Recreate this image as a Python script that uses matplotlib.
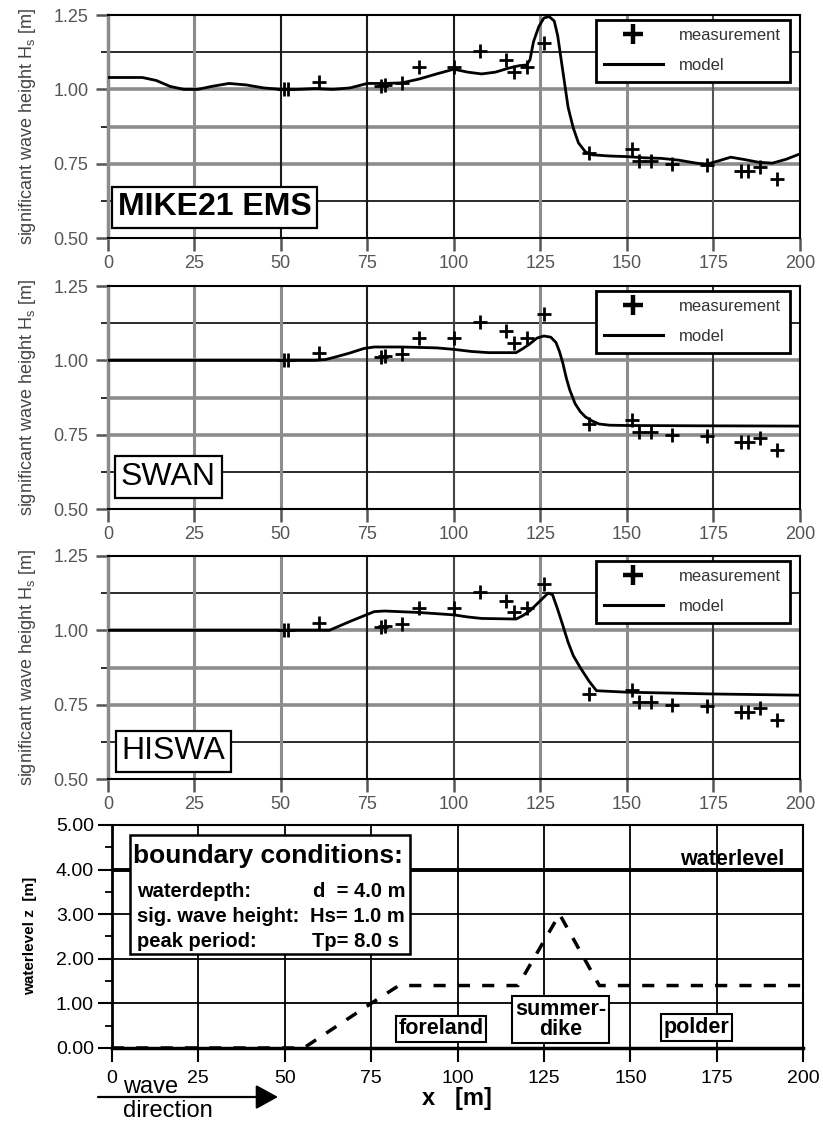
import matplotlib
matplotlib.use('Agg')
import matplotlib.pyplot as plt
from matplotlib.lines import Line2D
from matplotlib.patches import Rectangle
from matplotlib.ticker import FormatStrFormatter, MultipleLocator

plt.rcParams['font.family'] = ['Liberation Sans', 'DejaVu Sans']
plt.rcParams['mathtext.default'] = 'regular'

# ---------------- data ----------------
meas_x = [51, 52, 61, 79, 80, 85, 90, 100, 107.5, 115, 117.5, 121, 126,
          139, 151.5, 153.5, 157, 163, 173, 183, 185, 188.5, 193.5]
meas_y = [1.00, 1.00, 1.025, 1.01, 1.015, 1.02, 1.075, 1.075, 1.13, 1.10, 1.06, 1.075, 1.155,
          0.785, 0.80, 0.76, 0.76, 0.75, 0.745, 0.725, 0.725, 0.74, 0.70]

mike_x = [0, 5, 10, 14, 18, 22, 26, 30, 35, 40, 45, 50, 55, 60, 65, 70, 75, 80, 85, 90, 95,
          100, 104, 108, 112, 116, 119, 121, 122, 123, 124.5, 126, 127.5, 129, 130, 131, 132,
          133, 134.5, 136, 138, 140, 145, 150, 155, 160, 165, 170, 173, 176, 180, 184, 188,
          192, 196, 200]
mike_y = [1.04, 1.04, 1.04, 1.03, 1.01, 1.0, 1.0, 1.01, 1.02, 1.015, 1.005, 1.0, 1.0, 1.003,
          1.0, 1.005, 1.02, 1.02, 1.022, 1.035, 1.052, 1.068, 1.058, 1.052, 1.058, 1.072, 1.08,
          1.082, 1.10, 1.16, 1.21, 1.24, 1.245, 1.23, 1.18, 1.10, 1.02, 0.94, 0.87, 0.82, 0.79,
          0.78, 0.776, 0.774, 0.77, 0.768, 0.762, 0.752, 0.748, 0.758, 0.772, 0.764, 0.755,
          0.752, 0.765, 0.783]

swan_x = [0, 50, 60, 63, 66, 70, 74, 77, 85, 95, 100, 105, 110, 118, 120, 122, 124, 126, 128,
          129.5, 130.5, 131.5, 132.5, 133.5, 135, 136.5, 138, 140, 142, 145, 150, 170, 200]
swan_y = [1.0, 1.0, 1.0, 1.003, 1.012, 1.025, 1.04, 1.045, 1.045, 1.042, 1.037, 1.03, 1.026,
          1.026, 1.04, 1.056, 1.075, 1.082, 1.078, 1.06, 1.03, 0.99, 0.94, 0.90, 0.855, 0.828,
          0.81, 0.796, 0.786, 0.782, 0.781, 0.78, 0.779]

hiswa_x = [0, 50, 64, 70, 77, 80, 90, 100, 104, 108, 118, 120, 122, 125, 127.2, 128.5, 130,
           131.5, 133, 134.5, 136.5, 139, 141.2, 150, 175, 200]
hiswa_y = [1.0, 1.0, 1.0, 1.03, 1.063, 1.065, 1.06, 1.052, 1.045, 1.04, 1.038, 1.05, 1.066,
           1.10, 1.125, 1.12, 1.07, 1.016, 0.96, 0.915, 0.875, 0.83, 0.797, 0.792, 0.786, 0.782]

profile_x = [0, 55.5, 75, 83, 117.5, 129.5, 141, 200]
profile_z = [0, 0, 1.0, 1.4, 1.4, 3.0, 1.4, 1.4]

water_x = [0, 200]
water_z = [4.0, 4.0]

x_ticks = [0, 25, 50, 75, 100, 125, 150, 175, 200]
hs_ticks = [0.50, 0.75, 1.00, 1.25]
z_ticks = [0, 1, 2, 3, 4, 5]

model_names = ['MIKE21 EMS', 'SWAN', 'HISWA']
model_x = [mike_x, swan_x, hiswa_x]
model_y = [mike_y, swan_y, hiswa_y]

# ---------------- figure ----------------
fig = plt.figure(figsize=(8.23, 11.23), dpi=100)

GREY = '#8c8c8c'
DARK = '#1a1a1a'
top_pos = [[0.131, 0.788, 0.841, 0.1986],
           [0.131, 0.5467, 0.841, 0.1986],
           [0.131, 0.3063, 0.841, 0.1986]]
vcols = [[GREY, DARK, DARK, DARK, GREY, GREY, '#555555'],
         [GREY, GREY, DARK, '#444444', GREY, GREY, '#333333'],
         [GREY, GREY, DARK, '#444444', GREY, GREY, '#333333']]
label_pos = [(2.9, 0.603), (3.8, 0.608), (4.0, 0.593)]
label_weight = ['bold', 'normal', 'normal']

for i in range(3):
    ax = fig.add_axes(top_pos[i])
    ax.set_xlim(0, 200)
    ax.set_ylim(0.5, 1.25)
    # grid
    for yv, c, lw in [(0.625, DARK, 1.3), (0.75, GREY, 2.6), (0.875, GREY, 2.6),
                      (1.0, GREY, 2.6), (1.125, DARK, 1.3)]:
        ax.axhline(yv, color=c, lw=lw, zorder=1)
    for xv, c in zip(x_ticks[1:-1], vcols[i]):
        ax.axvline(xv, color=c, lw=2.2 if c == GREY else 1.5, zorder=1)
    for s in ['top', 'right', 'bottom']:
        ax.spines[s].set_color('black')
        ax.spines[s].set_linewidth(1.5)
    ax.spines['left'].set_color(GREY)
    ax.spines['left'].set_linewidth(2.5)
    ax.set_xticks(x_ticks)
    ax.set_yticks(hs_ticks)
    ax.yaxis.set_minor_locator(MultipleLocator(0.125))
    ax.yaxis.set_major_formatter(FormatStrFormatter('%.2f'))
    ax.tick_params(axis='both', which='major', direction='out', length=9, width=1.8,
                   color='#555555', labelsize=13, labelcolor='#555555')
    ax.tick_params(axis='x', pad=3)
    ax.tick_params(axis='y', pad=5)
    ax.tick_params(axis='y', which='minor', direction='out', length=5, width=1.3, color=DARK)

    ax.plot(model_x[i], model_y[i], color='black', lw=2.0, zorder=3)
    ax.plot(meas_x, meas_y, ls='none', marker='+', ms=10, mew=2.0, color='black', zorder=4)

    handles = [Line2D([], [], marker='+', ls='none', color='k', ms=15, mew=3.2),
               Line2D([], [], color='k', lw=2.2)]
    leg = ax.legend(handles, ['measurement', 'model'], loc='upper right',
                    bbox_to_anchor=(0.985, 0.978), frameon=True, fancybox=False,
                    edgecolor='black', framealpha=1, fontsize=12, handlelength=3.5,
                    handletextpad=1.0, labelspacing=0.9, borderpad=0.5, borderaxespad=0)
    leg.get_frame().set_linewidth(2.0)
    for t in leg.get_texts():
        t.set_color('#333333')
    leg.set_zorder(10)

    ax.text(label_pos[i][0], label_pos[i][1], model_names[i], fontsize=23,
            fontweight=label_weight[i], ha='left', va='center', zorder=8,
            bbox=dict(boxstyle='square,pad=0.18', fc='white', ec='black', lw=1.6))

    yc = top_pos[i][1] + top_pos[i][3] / 2
    fig.text(0.034, yc, 'significant wave height H$_s$ [m]', rotation=90,
             ha='center', va='center', fontsize=13, color='#444444')

# ---------------- bottom panel ----------------
ax = fig.add_axes([0.136, 0.0668, 0.840, 0.1986])
ax.set_xlim(0, 200)
ax.set_ylim(0, 5)
for yv in z_ticks[1:-1]:
    ax.axhline(yv, color='black', lw=1.3, zorder=1)
for xv in x_ticks[1:-1]:
    ax.axvline(xv, color='black', lw=1.3, zorder=1)
for s in ['top', 'right']:
    ax.spines[s].set_linewidth(1.5)
ax.spines['left'].set_linewidth(2.0)
ax.spines['bottom'].set_linewidth(2.5)
ax.set_xticks(x_ticks)
ax.set_yticks(z_ticks)
ax.yaxis.set_minor_locator(MultipleLocator(0.5))
ax.yaxis.set_major_formatter(FormatStrFormatter('%.2f'))
ax.tick_params(axis='both', which='major', direction='out', length=10, width=1.5,
               labelsize=14, color='black')
ax.tick_params(axis='x', pad=6)
ax.tick_params(axis='y', pad=3)
ax.tick_params(axis='y', which='minor', direction='out', length=5, width=1.3)

ax.plot(water_x, water_z, color='black', lw=2.8, zorder=2)
ax.plot(profile_x, profile_z, color='black', lw=2.5, ls=(0, (3.5, 3.5)), zorder=3)

ax.add_patch(Rectangle((5.2, 2.11), 81.0, 2.67, fc='white', ec='black', lw=1.8, zorder=5))
ax.text(6.1, 4.30, 'boundary conditions:', fontsize=19, fontweight='bold',
        ha='left', va='center', zorder=6)
rows_l = ['waterdepth:', 'sig. wave height:', 'peak period:']
rows_r = ['d  = 4.0 m', 'Hs= 1.0 m', 'Tp= 8.0 s']
rows_z = [3.50, 2.94, 2.38]
rows_xr = [84.8, 84.8, 83.0]
for tl, tr, zz, xr in zip(rows_l, rows_r, rows_z, rows_xr):
    ax.text(7.2, zz, tl, fontsize=14.5, fontweight='bold', ha='left', va='center', zorder=6)
    ax.text(xr, zz, tr, fontsize=14.5, fontweight='bold', ha='right', va='center', zorder=6)

box = dict(boxstyle='square,pad=0.12', fc='white', ec='black', lw=1.5)
ax.text(95.3, 0.43, 'foreland', fontsize=15.5, fontweight='bold', ha='center',
        va='center', bbox=box, zorder=6)
ax.text(129.8, 0.64, 'summer-\ndike', fontsize=15.5, fontweight='bold', ha='center',
        va='center', linespacing=0.95, bbox=box, zorder=6)
ax.text(169.0, 0.46, 'polder', fontsize=15.5, fontweight='bold', ha='center',
        va='center', bbox=box, zorder=6)
ax.text(179.3, 4.22, 'waterlevel', fontsize=15.5, fontweight='bold', ha='center',
        va='center', zorder=6)

fig.text(30 / 823, 1 - 936 / 1123, 'waterlevel z  [m]', rotation=90, ha='center',
         va='center', fontsize=11, fontweight='bold')
fig.text(457 / 823, 1 - 1098 / 1123, 'x   [m]', ha='center', va='center',
         fontsize=17, fontweight='bold')

# wave direction arrow
ax.annotate('', xy=(278, 1123 - 1097), xytext=(98, 1123 - 1097),
            xycoords='figure pixels', textcoords='figure pixels',
            arrowprops=dict(arrowstyle='-|>,head_length=0.4,head_width=0.22',
                            lw=1.6, color='black', mutation_scale=34,
                            shrinkA=0, shrinkB=0))
fig.text(123 / 823, 1 - 1093 / 1123, 'wave', ha='left', va='baseline', fontsize=17)
fig.text(123 / 823, 1 - 1117 / 1123, 'direction', ha='left', va='baseline', fontsize=17)

fig.savefig('out.png', dpi=100)
